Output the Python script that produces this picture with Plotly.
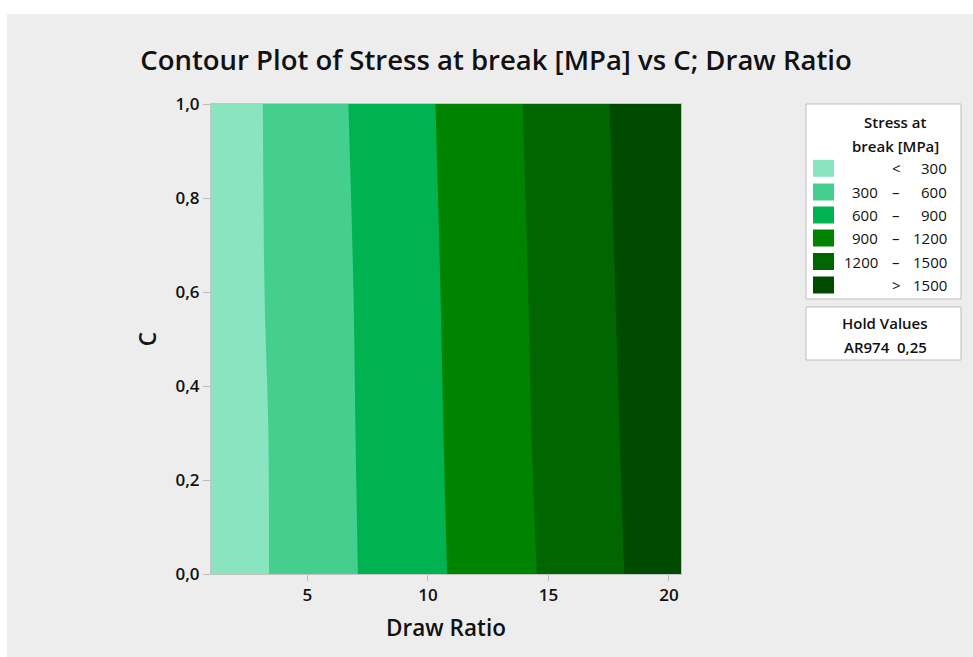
import plotly.graph_objects as go

# ---- data ----
draw_ratio = [1.0, 5.0, 10.0, 15.0, 20.5]
c_values = [0.0, 0.3, 0.6, 1.0]
stress = [
    [104, 430, 836, 1239, 1695],
    [100, 436, 847, 1258, 1709],
    [124, 441, 857, 1269, 1727],
    [115, 459, 874, 1289, 1746],
]
levels = [300, 600, 900, 1200, 1500]
band_colors = ["#88E5BF", "#45CF8F", "#00B250", "#008400", "#006700", "#004B00"]
band_labels = [("", "<", "300"), ("300", "–", "600"), ("600", "–", "900"),
               ("900", "–", "1200"), ("1200", "–", "1500"), ("", ">", "1500")]
x_ticks = [5, 10, 15, 20]
y_ticks = [0.0, 0.2, 0.4, 0.6, 0.8, 1.0]
y_ticktext = ["0,0", "0,2", "0,4", "0,6", "0,8", "1,0"]
hold_name = "AR974"
hold_value = "0,25"

W, H = 973, 657
L, R, T, B = 211, 681, 104, 574
FONT = "Open Sans"


def px(x):
    return (x - L) / (R - L)


def py(y):
    return (B - y) / (B - T)


n = len(band_colors)
colorscale = [[i / (n - 1), c] for i, c in enumerate(band_colors)]

fig = go.Figure()
fig.add_trace(go.Contour(
    x=draw_ratio, y=c_values, z=stress,
    colorscale=colorscale, showscale=False,
    contours=dict(coloring="fill", start=levels[0], end=levels[-1],
                  size=levels[1] - levels[0], showlines=False),
    line=dict(width=0),
    hoverinfo="skip",
))

shapes = []
annotations = []

# white outer margin strips (top and left)
shapes.append(dict(type="rect", xref="paper", yref="paper",
                   x0=px(0), x1=px(W), y0=py(0), y1=py(14),
                   fillcolor="white", line=dict(width=0), layer="below"))
shapes.append(dict(type="rect", xref="paper", yref="paper",
                   x0=px(0), x1=px(7), y0=py(H), y1=py(0),
                   fillcolor="white", line=dict(width=0), layer="below"))

LEG = dict(family=FONT, size=15, color="#111")
LEGB = dict(family=FONT, size=15, color="#111", weight=600)

# legend box
shapes.append(dict(type="rect", xref="paper", yref="paper",
                   x0=px(806), x1=px(961), y0=py(299), y1=py(104),
                   fillcolor="white", line=dict(color="#BDBDBD", width=1)))
annotations.append(dict(xref="paper", yref="paper", x=px(895), y=py(122),
                        text="Stress at", showarrow=False, xanchor="center",
                        yanchor="middle", font=LEGB))
annotations.append(dict(xref="paper", yref="paper", x=px(895), y=py(145.5),
                        text="break [MPa]", showarrow=False, xanchor="center",
                        yanchor="middle", font=LEGB))
row_y = [168.3, 192, 215, 238, 261.5, 285]
for i, (col, lab) in enumerate(zip(band_colors, band_labels)):
    yc = row_y[i]
    shapes.append(dict(type="rect", xref="paper", yref="paper",
                       x0=px(813), x1=px(834), y0=py(yc + 8.5), y1=py(yc - 8.5),
                       fillcolor=col, line=dict(width=0)))
    lo, sym, hi = lab
    if lo:
        annotations.append(dict(xref="paper", yref="paper", x=px(880), y=py(yc),
                                text=lo, showarrow=False, xanchor="right", yanchor="middle",
                                font=LEG))
    annotations.append(dict(xref="paper", yref="paper", x=px(896), y=py(yc),
                            text=sym, showarrow=False, xanchor="center", yanchor="middle",
                            font=LEG))
    annotations.append(dict(xref="paper", yref="paper", x=px(949), y=py(yc),
                            text=hi, showarrow=False, xanchor="right", yanchor="middle",
                            font=LEG))

# hold values box
shapes.append(dict(type="rect", xref="paper", yref="paper",
                   x0=px(806), x1=px(961), y0=py(360), y1=py(307),
                   fillcolor="white", line=dict(color="#BDBDBD", width=1)))
annotations.append(dict(xref="paper", yref="paper", x=px(885), y=py(323),
                        text="Hold Values", showarrow=False, xanchor="center", yanchor="middle",
                        font=LEGB))
annotations.append(dict(xref="paper", yref="paper", x=px(885), y=py(347),
                        text=f"{hold_name}  {hold_value}", showarrow=False, xanchor="center",
                        yanchor="middle", font=LEGB))

fig.update_layout(
    width=W, height=H,
    margin=dict(l=L, r=W - R, t=T, b=H - B, pad=0),
    paper_bgcolor="#EDEDED", plot_bgcolor="#EDEDED",
    showlegend=False,
    title=dict(text="Contour Plot of Stress at break [MPa] vs C; Draw Ratio",
               x=496 / W, xanchor="center", y=1 - 60 / H, yanchor="middle",
               font=dict(family=FONT, size=27.5, color="#111", weight=600)),
    shapes=shapes, annotations=annotations,
    xaxis=dict(range=[draw_ratio[0], draw_ratio[-1]], tickvals=x_ticks,
               ticktext=[str(v) for v in x_ticks],
               ticks="outside", ticklen=6, tickcolor="#BDBDBD", tickwidth=1,
               showline=True, linecolor="#C4C4C4", linewidth=1, mirror=True,
               showgrid=False, zeroline=False,
               tickfont=dict(family=FONT, size=17, color="#111", weight=600),
               title=dict(text="Draw Ratio", standoff=14,
                          font=dict(family=FONT, size=22.5, color="#111", weight=600))),
    yaxis=dict(range=[0, 1], tickvals=y_ticks, ticktext=y_ticktext,
               ticks="outside", ticklen=7, tickcolor="#BDBDBD", tickwidth=1,
               showline=True, linecolor="#C4C4C4", linewidth=1, mirror=True,
               showgrid=False, zeroline=False,
               tickfont=dict(family=FONT, size=17, color="#111", weight=600),
               title=dict(text="C", standoff=12,
                          font=dict(family=FONT, size=22.5, color="#111", weight=600))),
)

fig.write_html("out.html")
